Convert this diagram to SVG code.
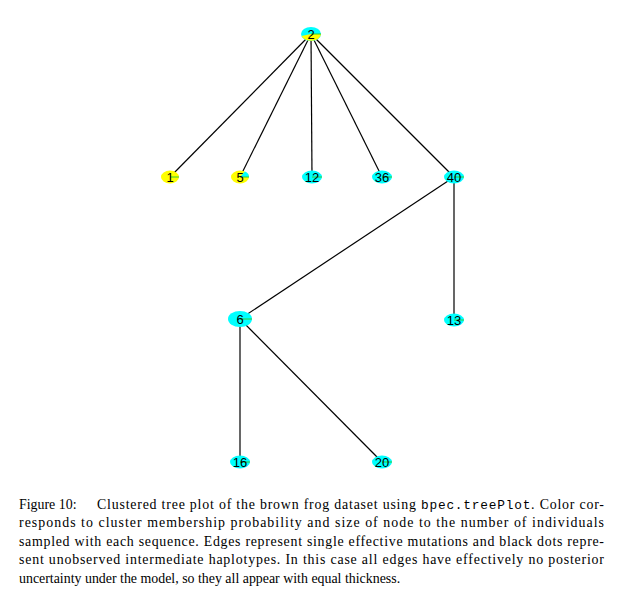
<svg xmlns="http://www.w3.org/2000/svg" width="624" height="590" viewBox="0 0 624 590">
<style>
.e{stroke:#000;stroke-width:1.2;fill:none}
.c{fill:#00ffff}
.y{fill:#ffff00}
.g{stroke:#33cc33;stroke-width:1}
.l{font-family:"Liberation Sans",Arial,sans-serif;font-size:13px;fill:#000;text-anchor:middle}
.cap{font-family:"Liberation Serif","Times New Roman",serif;font-size:13.9px;fill:#000}
.m{font-family:"Liberation Mono","Courier New",monospace;font-size:12.8px}
</style>
<rect width="624" height="590" fill="#fff"/>
<g id="edges">
<line class="e" x1="311" y1="34" x2="170" y2="177"/>
<line class="e" x1="311" y1="34" x2="240" y2="177"/>
<line class="e" x1="311" y1="34" x2="312" y2="177"/>
<line class="e" x1="311" y1="34" x2="382" y2="177"/>
<line class="e" x1="311" y1="34" x2="454" y2="177"/>
<line class="e" x1="454" y1="177" x2="240" y2="319"/>
<line class="e" x1="454" y1="177" x2="454" y2="320"/>
<line class="e" x1="240" y1="319" x2="240" y2="462"/>
<line class="e" x1="240" y1="319" x2="382" y2="462"/>
</g>
<g id="n2">
<ellipse class="c" cx="311" cy="34" rx="10" ry="7"/>
<path class="y" d="M311,34 L321,34 A10,7 0 0 1 301.5,36 Z"/>
<line class="g" x1="311" y1="34" x2="321" y2="34"/>
<text class="l" x="311" y="39">2</text>
</g>
<g id="n1">
<ellipse class="y" cx="170" cy="177" rx="9" ry="6.5"/>
<line class="g" x1="170" y1="177" x2="179" y2="177"/>
<text class="l" x="170" y="182">1</text>
</g>
<g id="n5">
<ellipse class="y" cx="240" cy="177" rx="9" ry="6.5"/>
<path class="c" d="M240,177 L249,177 A9,6.5 0 0 0 245,171.5 Z"/>
<line class="g" x1="240" y1="177" x2="249" y2="177"/>
<text class="l" x="240" y="182">5</text>
</g>
<g id="n12">
<ellipse class="c" cx="312" cy="177" rx="10" ry="6.5"/>
<line class="g" x1="312" y1="177" x2="322" y2="177"/>
<text class="l" x="312" y="182">12</text>
</g>
<g id="n36">
<ellipse class="c" cx="382" cy="177" rx="10" ry="6.5"/>
<line class="g" x1="382" y1="177" x2="392" y2="177"/>
<text class="l" x="382" y="182">36</text>
</g>
<g id="n40">
<ellipse class="c" cx="454" cy="177" rx="10" ry="6.5"/>
<line class="g" x1="454" y1="177" x2="464" y2="177"/>
<text class="l" x="454" y="182">40</text>
</g>
<g id="n6">
<ellipse class="c" cx="240" cy="319" rx="12" ry="8"/>
<line class="g" x1="240" y1="319" x2="252" y2="319"/>
<text class="l" x="240" y="324">6</text>
</g>
<g id="n13">
<ellipse class="c" cx="454" cy="320" rx="10" ry="6.5"/>
<line class="g" x1="454" y1="320" x2="464" y2="320"/>
<text class="l" x="454" y="325">13</text>
</g>
<g id="n16">
<ellipse class="c" cx="240" cy="462" rx="10" ry="6.5"/>
<line class="g" x1="240" y1="462" x2="250" y2="462"/>
<text class="l" x="240" y="467">16</text>
</g>
<g id="n20">
<ellipse class="c" cx="382" cy="462" rx="10" ry="6.5"/>
<line class="g" x1="382" y1="462" x2="392" y2="462"/>
<text class="l" x="382" y="467">20</text>
</g>
<g id="caption">
<text class="cap" x="19" y="509">Figure 10:</text>
<text class="cap" x="97" y="509" textLength="507" lengthAdjust="spacing">Clustered tree plot of the brown frog dataset using <tspan class="m">bpec.treePlot</tspan>. Color cor-</text>
<text class="cap" x="19" y="527" textLength="585" lengthAdjust="spacing">responds to cluster membership probability and size of node to the number of individuals</text>
<text class="cap" x="19" y="546" textLength="585" lengthAdjust="spacing">sampled with each sequence. Edges represent single effective mutations and black dots repre-</text>
<text class="cap" x="19" y="564" textLength="585" lengthAdjust="spacing">sent unobserved intermediate haplotypes. In this case all edges have effectively no posterior</text>
<text class="cap" x="19" y="583">uncertainty under the model, so they all appear with equal thickness.</text>
</g>
</svg>
